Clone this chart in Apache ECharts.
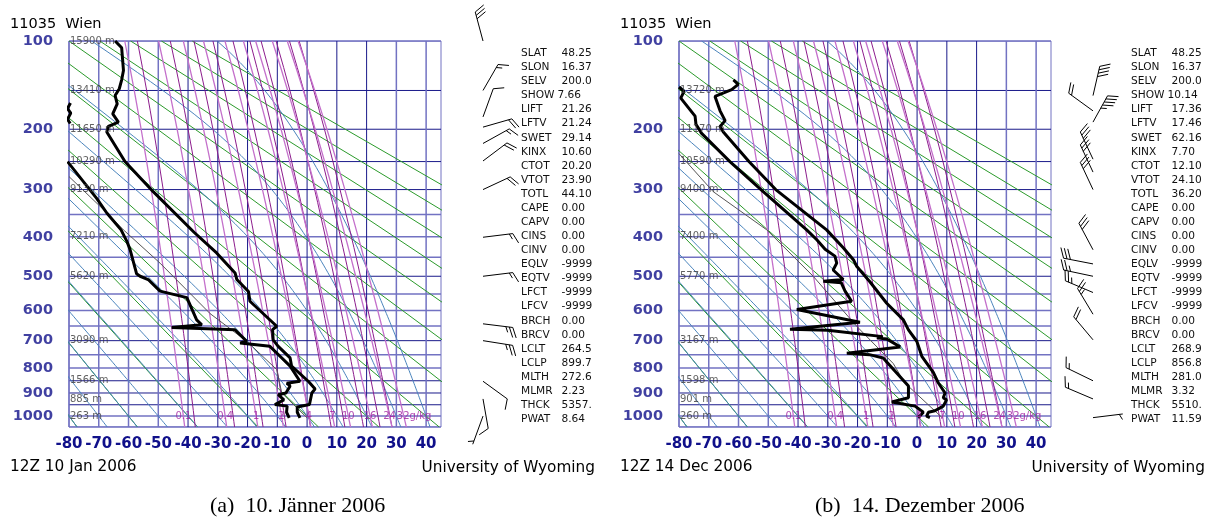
<!DOCTYPE html>
<html>
<head>
<meta charset="utf-8">
<script src="https://cdn.jsdelivr.net/npm/echarts@6.0.0/dist/echarts.min.js"></script>
<style>
html,body{margin:0;padding:0;background:#ffffff;}
#chart{width:1214px;height:521px;}
</style>
</head>
<body>
<div id="chart"></div>
<script>
// ================= DATA =================
const stationTitle = '11035  Wien';
const dateA = '12Z 10 Jan 2006';
const dateB = '12Z 14 Dec 2006';
const captionA = '(a)  10. Jänner 2006';
const captionB = '(b)  14. Dezember 2006';
const creditText = 'University of Wyoming';

// axis / grid values
const isobars = [100,150,200,250,300,350,400,450,500,550,600,650,700,750,800,850,900,950,1000,1050];
const darkIsobars = [150,200,250,300,500,700,850,900,950];
const isotherms = [-80,-70,-60,-50,-40,-30,-20,-10,0,10,20,30,40];
const darkIsotherms = [-40,-30,-20,-10,0,10,20];
const pressureLabels = [100,200,300,400,500,600,700,800,900,1000];
const heightLevels = [100,150,200,250,300,400,500,700,850,925,1000];
const heightsA = ['15900 m','13410 m','11650 m','10290 m','9130 m','7210 m','5620 m','3090 m','1566 m','885 m','263 m'];
const heightsB = ['','13720 m','11170 m','10590 m','9400 m','7400 m','5770 m','3167 m','1598 m','901 m','260 m'];

// reference line families (parameters)
const dryThetaC = [-80,-60,-40,-20,0,20,40,60,80,100,120,140,160,180];      // potential temperature, deg C
const moistT1000 = [-80,-70,-60,-50,-40,-30,-20,-10,0,10,20,30,40];          // wet-bulb potential temp at 1000 hPa
const mixRatios = [0.1,0.4,1,2,4,7,10,16,24,32];                              // g/kg (water saturation)
const mixRatiosIce = [0.1,0.4,1,2,4,7,10,16,24,32];                           // g/kg (ice saturation)
const mixLabels = ['0.1','0.4','1','2','4','7','10','16','24','32g/kg'];

// sounding A : 10 Jan 2006
const tempA_p = [100,106,128,138,148,156,166,179,190,196,204,250,304,390,439,491,509,543,572,651,662,697,720,762,793,852,883,900,949,960,983,1008];
const tempA_t = [-64.5,-62.3,-61.7,-62.3,-63.1,-64.5,-63.8,-65.3,-63.4,-66.8,-67.3,-61.2,-51.7,-37.9,-30.4,-24.2,-23.6,-19.7,-19.2,-10.2,-11.6,-11.4,-9.7,-5.7,-5.2,0.4,2.7,1.6,0.8,-3.3,-3.3,-2.4];
const dewA_p = [165,172,178,186,192,null,250,317,347,384,410,430,493,500,509,542,561,630,646,655,663,702,708,720,744,793,852,860,871,900,907,929,949,956,983,1008];
const dewA_t = [-79.5,-80.5,-79.4,-80.5,-79.6,null,-80.5,-70.7,-67.3,-62.5,-60.6,-59.5,-57.3,-56.1,-53.4,-49.4,-40.4,-37.1,-35.4,-45.5,-24.2,-20.3,-22.5,-12.5,-10.2,-5.7,-2.4,-6.8,-5.7,-7.1,-9.7,-7.8,-10.8,-6.7,-6.9,-6.0];
const parcelA_p = [276,343,384,465,610,702,806,900,1008];
const parcelA_t = [-80,-67.9,-61.7,-49.4,-32.6,-20.3,-10.2,-8.5,0.0];

// sounding B : 14 Dec 2006
const tempB_p = [138,143,149,157,175,188,196,204,250,300,384,426,456,473,516,578,630,663,702,756,818,858,900,920,929,956,976,983,1000,1007];
const tempB_t = [-61.7,-60.1,-62.3,-67.9,-66.2,-64.5,-66.2,-65.1,-56.5,-47.5,-30.4,-24.8,-21.4,-20.3,-15.8,-10.2,-4.6,-2.9,-0.1,1.6,5.5,7.1,9.4,8.8,9.9,8.8,6.0,3.8,3.2,4.3];
const dewB_p = [146,151,159,182,193,206,250,304,384,407,430,447,465,483,509,514,518,542,572,597,638,661,664,686,690,694,722,745,750,762,871,920,938,956,983,1007];
const dewB_t = [-80,-78.3,-79.4,-74.6,-74.3,-72.4,-62.9,-51.7,-37.1,-33.7,-30.9,-27.6,-27.0,-28.2,-24.8,-31.5,-25.5,-24.2,-22.0,-40.4,-19.2,-42.7,-30.0,-11.5,-13.5,-10.2,-5.7,-23.6,-16.0,-11.4,-2.9,-2.9,-8.5,-0.7,2.1,0.4];
const parcelB_p = [237,304,384,500,651,783,857,1007];
const parcelB_t = [-80,-68.5,-50.5,-34.9,-20.3,-8.0,-4.25,8.4];

// winds [pressure hPa, direction deg, speed kt]
const windA_p = [100,150,183,197,221,249,300,401,500,643,700,852,925,1000];
const windA_d = [345,30,20,74,61,53,65,83,83,97,99,126,170,200];
const windA_s = [30,15,10,20,15,20,20,15,15,25,25,10,10,5];
const windB_p = [156,175,190,246,268,300,431,467,500,546,612,697,850,925,1007];
const windB_d = [13,306,29,335,335,335,332,281,282,293,329,320,296,293,83];
const windB_s = [40,20,45,30,30,30,30,30,25,25,25,20,15,15,5];

// station parameter table
const statNames = ['SLAT','SLON','SELV','SHOW','LIFT','LFTV','SWET','KINX','CTOT','VTOT','TOTL','CAPE','CAPV','CINS','CINV','EQLV','EQTV','LFCT','LFCV','BRCH','BRCV','LCLT','LCLP','MLTH','MLMR','THCK','PWAT'];
const statsA = ['48.25','16.37','200.0','7.66','21.26','21.24','29.14','10.60','20.20','23.90','44.10','0.00','0.00','0.00','0.00','-9999','-9999','-9999','-9999','0.00','0.00','264.5','899.7','272.6','2.23','5357.','8.64'];
const statsB = ['48.25','16.37','200.0','10.14','17.36','17.46','62.16','7.70','12.10','24.10','36.20','0.00','0.00','0.00','0.00','-9999','-9999','-9999','-9999','0.00','0.00','268.9','856.8','281.0','3.32','5510.','11.59'];

// ================= HELPERS =================
const KAPPA = 0.286;
const yv = p => Math.pow(p, KAPPA);          // Stuve vertical coordinate (p^kappa)
const T_MIN = -80, T_MAX = 45, P_TOP = 100, P_BOT = 1050;
const FONT = 'DejaVu Sans';

function esat(tc){ return 6.112*Math.exp(17.67*tc/(tc+243.5)); }
function mixTemp(w, p){ const e = w*p/(622+w); const l = Math.log(e/6.112); return 243.5*l/(17.67-l); }
function mixTempIce(w, p){ const e = w*p/(622+w); const l = Math.log(e/6.112); return 272.62*l/(22.46-l); }
function moistLapse(T, p){
  const es = esat(T-273.15), rs = 0.622*es/(p-es);
  const Rd=287.04, cp=1005.7, L=2.501e6, eps=0.622;
  return (Rd*T + L*rs)/(p*(cp + L*L*rs*eps/(Rd*T*T)));
}
function moistCurve(t0){
  const up=[[t0,1000]], down=[];
  let T=t0+273.15, p=1000;
  while(p>100){ const dp=-2; const k1=moistLapse(T,p); const k2=moistLapse(T+k1*dp,p+dp); T+=0.5*(k1+k2)*dp; p+=dp; if(p%10===0) up.push([T-273.15,p]); }
  T=t0+273.15; p=1000;
  while(p<1050){ const dp=2; const k1=moistLapse(T,p); const k2=moistLapse(T+k1*dp,p+dp); T+=0.5*(k1+k2)*dp; p+=dp; if(p%10===0) down.push([T-273.15,p]); }
  return down.reverse().concat(up);
}

function pairs(ps, ts){ return ps.map((p,i)=> p===null ? [null,null] : [ts[i], yv(p)]); }

function lineSeries(g, data, color, width, z){
  return { type:'line', xAxisIndex:g, yAxisIndex:g, data:data, symbol:'none', silent:true,
    lineStyle:{color:color, width:width}, z:z, clip:true, animation:false, connectNulls:false };
}

function buildPlot(g, temp, dew, parcel, heights, winds){
  const s = [];
  isobars.forEach(p=>{
    const dark = darkIsobars.indexOf(p)>=0;
    s.push(lineSeries(g, [[T_MIN,yv(p)],[T_MAX,yv(p)]], dark?'#1a1a8a':'#7272c2', dark?1:1.5, 1));
  });
  isotherms.forEach(t=>{
    const dark = darkIsotherms.indexOf(t)>=0;
    s.push(lineSeries(g, [[t,yv(P_TOP)],[t,yv(P_BOT)]], dark?'#1a1a8a':'#7272c2', dark?1:1.5, 1));
  });
  dryThetaC.forEach(th=>{
    const tk = th+273.15;
    const pts = [P_BOT, 900, 700, 500, 300, P_TOP].map(p=>[tk*Math.pow(p/1000,KAPPA)-273.15, yv(p)]);
    s.push(lineSeries(g, pts, '#2b9a2b', 1, 2));
  });
  moistT1000.forEach(t0=>{
    s.push(lineSeries(g, moistCurve(t0).map(d=>[d[0], yv(d[1])]), '#4a84bc', 1, 2));
  });
  mixRatiosIce.forEach(w=>{
    const pts=[]; for(let p=P_TOP;p<=P_BOT;p+=25) pts.push([mixTempIce(w,p), yv(p)]);
    s.push(lineSeries(g, pts, '#8c1c8c', 1, 3));
  });
  mixRatios.forEach(w=>{
    const pts=[]; for(let p=P_TOP;p<=P_BOT;p+=25) pts.push([mixTemp(w,p), yv(p)]);
    s.push(lineSeries(g, pts, '#c470cb', 1.3, 3));
  });
  s.push({ type:'scatter', xAxisIndex:g, yAxisIndex:g, symbolSize:0, silent:true, z:10,
    data: pressureLabels.map(p=>({value:[T_MIN, yv(p)], name:String(p)})),
    label:{show:true, position:'left', distance:16, formatter:'{b}', color:'#10108a', fontFamily:FONT, fontWeight:'bold', fontSize:14.5}});
  s.push({ type:'scatter', xAxisIndex:g, yAxisIndex:g, symbolSize:0, silent:true, z:10,
    data: heightLevels.map((p,i)=>({value:[T_MIN, yv(p)], name:heights[i]})),
    label:{show:true, position:'right', distance:1, formatter:'{b}', color:'#3a3a3a', fontFamily:FONT, fontSize:10}});
  s.push({ type:'scatter', xAxisIndex:g, yAxisIndex:g, symbolSize:0, silent:true, z:10,
    data: mixRatios.map((w,i)=>({value:[mixTemp(w,1000), yv(1000)], name:mixLabels[i],
      label: i===mixRatios.length-1 ? {position:[-7,0], align:'left', verticalAlign:'middle'} : {}})),
    label:{show:true, position:'inside', formatter:'{b}', color:'#a020a0', fontFamily:FONT, fontSize:10}});
  s.push(lineSeries(g, pairs(parcel[0], parcel[1]), '#555555', 1, 6));
  s.push(lineSeries(g, pairs(dew[0], dew[1]), '#000000', 3, 7));
  s.push(lineSeries(g, pairs(temp[0], temp[1]), '#000000', 3, 7));
  s.push({ type:'custom', xAxisIndex:g, yAxisIndex:g, clip:false, silent:true, z:8,
    data: winds[0].map((p,i)=>[T_MAX, yv(p), winds[1][i], winds[2][i]]),
    encode:{x:0, y:1},
    renderItem: function(params, api){
      const c = api.coord([api.value(0), api.value(1)]);
      const d = api.value(2)*Math.PI/180, spd = api.value(3);
      const ax = c[0]+42, ay = c[1], L = 30;
      const ux = Math.sin(d), uy = -Math.cos(d);
      const tx = ax+ux*L, ty = ay+uy*L;
      const a = 65*Math.PI/180;
      const bx = ux*Math.cos(a)-uy*Math.sin(a), by = ux*Math.sin(a)+uy*Math.cos(a);
      const ch = [{type:'line', shape:{x1:ax,y1:ay,x2:tx,y2:ty}, style:{stroke:'#000', lineWidth:1}}];
      let rem = Math.round(spd/5)*5, pos = 0;
      while(rem>=50){ const sx=tx-ux*pos, sy=ty-uy*pos;
        ch.push({type:'polygon', shape:{points:[[sx,sy],[sx+bx*11,sy+by*11],[sx-ux*5,sy-uy*5]]}, style:{fill:'#000'}});
        rem-=50; pos+=7; }
      while(rem>=10){ const sx=tx-ux*pos, sy=ty-uy*pos;
        ch.push({type:'line', shape:{x1:sx,y1:sy,x2:sx+bx*11,y2:sy+by*11}, style:{stroke:'#000', lineWidth:1}});
        rem-=10; pos+=3.5; }
      if(rem>=5){ if(pos===0) pos=3.5; const sx=tx-ux*pos, sy=ty-uy*pos;
        ch.push({type:'line', shape:{x1:sx,y1:sy,x2:sx+bx*6,y2:sy+by*6}, style:{stroke:'#000', lineWidth:1}}); }
      return {type:'group', children:ch};
    }
  });
  return s;
}

function txt(x, y, text, font, fill, align){
  return { type:'text', x:x, y:y, silent:true, z:20,
    style:{ text:text, font:font, fill:fill, align:align||'left', verticalAlign:'middle', textAlign:align||'left', textVerticalAlign:'middle' } };
}

// ================= CHART =================
const chart = echarts.init(document.getElementById('chart'), null, {renderer:'canvas'});
const grids = [
  {left:69, top:41, width:372, height:386, show:true, borderColor:'#7272c2', borderWidth:1, backgroundColor:'transparent'},
  {left:679, top:41, width:372, height:386, show:true, borderColor:'#7272c2', borderWidth:1, backgroundColor:'transparent'}
];
function xAx(g){ return { gridIndex:g, type:'value', min:T_MIN, max:T_MAX, interval:10,
  axisLine:{show:false}, axisTick:{show:false}, splitLine:{show:false},
  axisLabel:{show:true, margin:10, color:'#10108a', fontFamily:FONT, fontWeight:'bold', fontSize:15,
    formatter: v => (v>40 ? '' : String(v))}}; }
function yAx(g){ return { gridIndex:g, type:'value', inverse:true, min:yv(P_TOP), max:yv(P_BOT),
  axisLine:{show:false}, axisTick:{show:false}, splitLine:{show:false}, axisLabel:{show:false}}; }

const series = buildPlot(0, [tempA_p,tempA_t], [dewA_p,dewA_t], [parcelA_p,parcelA_t], heightsA, [windA_p,windA_d,windA_s])
  .concat(buildPlot(1, [tempB_p,tempB_t], [dewB_p,dewB_t], [parcelB_p,parcelB_t], heightsB, [windB_p,windB_d,windB_s]));

const graphics = [];
[[0, dateA, statsA, captionA, 210], [610, dateB, statsB, captionB, 815]].forEach(([ox, date, stats, cap, capLeft])=>{
  graphics.push(txt(ox+10, 24, stationTitle, '14.5px "DejaVu Sans"', '#000'));
  graphics.push(txt(ox+10, 467, date, '15.3px "DejaVu Sans"', '#000'));
  graphics.push(txt(ox+595, 468, creditText, '15.3px "DejaVu Sans"', '#000', 'right'));
  graphics.push(txt(capLeft, 506, cap, '22px "Liberation Serif"', '#000', 'left'));
  statNames.forEach((n,i)=>{
    const y = 53.3 + i*14.08;
    graphics.push(txt(ox+521, y, n, '10.6px "DejaVu Sans"', '#111'));
    graphics.push(txt(ox+(n==='SHOW'?557.5:561.5), y, stats[i], '10.6px "DejaVu Sans"', '#111'));
  });
});

chart.setOption({
  animation:false,
  backgroundColor:'#ffffff',
  grid:grids,
  xAxis:[xAx(0), xAx(1)],
  yAxis:[yAx(0), yAx(1)],
  series:series,
  graphic:{elements:graphics}
});
</script>
</body>
</html>
